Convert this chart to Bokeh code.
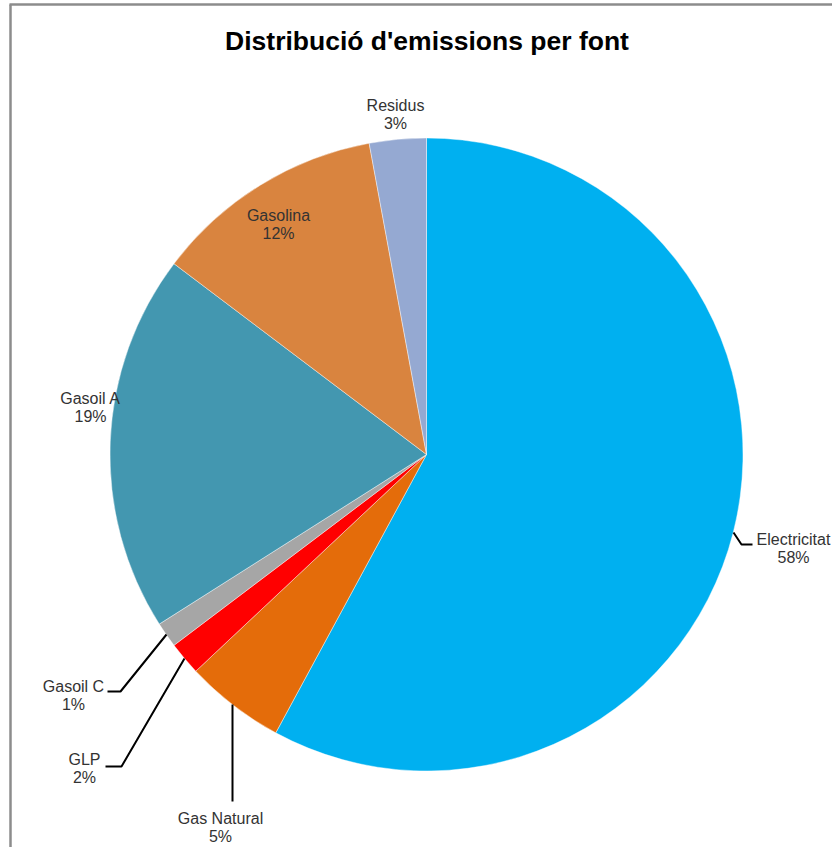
import math
from bokeh.plotting import figure
from bokeh.models import Range1d, ColumnDataSource
from bokeh.core.properties import value
from bokeh.embed import file_html
from bokeh.resources import INLINE

# ---- data ----
categories = ["Electricitat", "Gas Natural", "GLP", "Gasoil C", "Gasoil A", "Gasolina", "Residus"]
shares = [57.9, 5.1, 1.7, 1.3, 19.3, 11.8, 2.9]
colors = ["#00B0F0", "#E46C0A", "#FF0000", "#A6A6A6", "#4397B0", "#D9843F", "#95A9D2"]
title_text = "Distribució d'emissions per font"

# ---- layout (screen pixels; y measured downward) ----
W, H = 832, 847
CX, CY, R = 426, 454, 316.5

def sy(y):  # page y (down) -> data y (up)
    return H - y

# label anchors: center x, baseline y of first line
label_pos = {
    "Electricitat": (793, 539),
    "Gas Natural": (220, 818),
    "GLP": (84, 759),
    "Gasoil C": (73, 686),
    "Gasoil A": (90, 398),
    "Gasolina": (278, 215),
    "Residus": (395, 105),
}
leaders = {
    "Electricitat": [(733, 532), (741, 544), (752, 544)],
    "Gas Natural": [(232, 704), (232, 801)],
    "GLP": [(184, 658), (121, 766), (105, 766)],
    "Gasoil C": [(166, 634), (120, 691), (107, 691)],
}

total = sum(shares)
starts, ends = [], []
cum = 0.0
for v in shares:
    a0 = math.pi / 2 - 2 * math.pi * cum / total
    cum += v
    a1 = math.pi / 2 - 2 * math.pi * cum / total
    starts.append(a1)
    ends.append(a0)

p = figure(width=W, height=H, output_backend="svg", toolbar_location=None,
           x_range=Range1d(0, W), y_range=Range1d(0, H),
           min_border=0, min_border_left=0, min_border_right=0,
           min_border_top=0, min_border_bottom=0)
p.axis.visible = False
p.grid.visible = False
p.outline_line_color = None
p.background_fill_color = "white"
p.border_fill_color = "white"

src = ColumnDataSource(dict(cat=categories, start=starts, end=ends, color=colors))
p.wedge(x=CX, y=sy(CY), radius=R, start_angle="start", end_angle="end",
        fill_color="color", line_color="white", line_width=0.6, line_alpha=0.7, source=src)

# frame border (left and top edges visible)
p.line(x=[10, 10], y=[sy(4), sy(H)], line_color="#8C8C8C", line_width=2.5)
p.line(x=[9, W], y=[sy(4), sy(4)], line_color="#8C8C8C", line_width=2.5)

# leader lines
for cat, pts in leaders.items():
    p.line(x=[q[0] for q in pts], y=[sy(q[1]) for q in pts], line_color="black", line_width=2)

# labels
names_x, names_y, pct_y, pct_txt = [], [], [], []
for cat, v in zip(categories, shares):
    lx, ly = label_pos[cat]
    names_x.append(lx)
    names_y.append(sy(ly))
    pct_y.append(sy(ly + 18))
    pct_txt.append(f"{round(v / total * 100)}%")
p.text(x=names_x, y=names_y, text=categories, text_align="center", text_baseline="alphabetic",
       text_font=value("Liberation Sans"), text_font_size="16px", text_color="#333333")
p.text(x=names_x, y=pct_y, text=pct_txt, text_align="center", text_baseline="alphabetic",
       text_font=value("Liberation Sans"), text_font_size="16px", text_color="#333333")

# title
p.text(x=[426.5], y=[sy(40)], text=[title_text], text_align="center", text_baseline="alphabetic",
       text_font=value("Liberation Sans"), text_font_size="26.5px", text_font_style="bold",
       text_color="black")

open("out.html", "w").write(file_html(p, INLINE))
